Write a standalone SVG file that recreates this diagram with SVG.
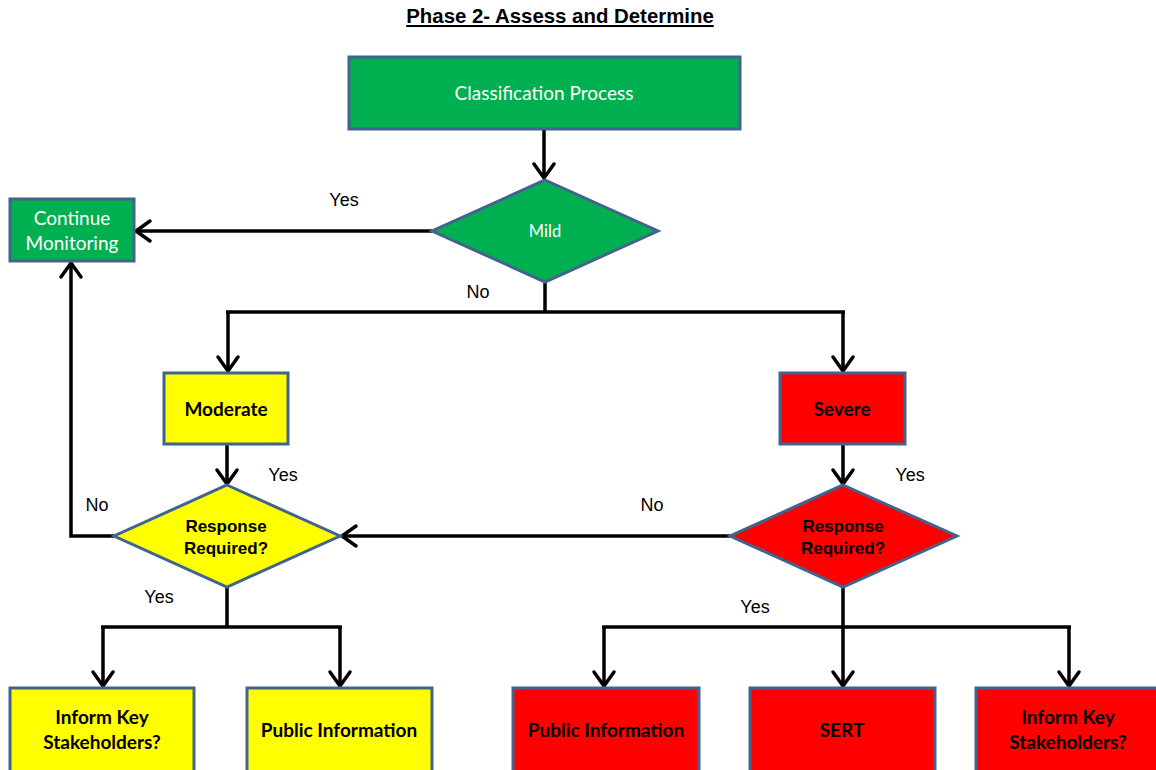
<svg xmlns="http://www.w3.org/2000/svg" width="1156" height="770" viewBox="0 0 1156 770">
<defs>
<marker id="arr" viewBox="0 0 20 24" refX="16" refY="12" markerWidth="20" markerHeight="24" markerUnits="userSpaceOnUse" orient="auto" overflow="visible">
<path d="M2,2 L16,12 L2,22" fill="none" stroke="#000" stroke-width="3.5" stroke-linecap="round" stroke-linejoin="miter"/>
</marker>
<style>
.box{stroke:#41648F;stroke-width:3}
.g{fill:#00B050}
.y{fill:#FFFF00}
.r{fill:#FF0000}
.wt{font-family:Lato,"Open Sans",sans-serif;fill:#fff;text-anchor:middle}
.bt{font-family:Lato,"Open Sans",sans-serif;font-weight:bold;fill:#000;text-anchor:middle;font-size:19px}
.dt{font-family:"Liberation Sans",Arial,sans-serif;font-weight:bold;fill:#000;text-anchor:middle;font-size:17px}
.lbl{font-family:"Liberation Sans",Arial,sans-serif;fill:#000;font-size:18px;text-anchor:middle}
.c{fill:none;stroke:#000;stroke-width:3.5}
.ca{fill:none;stroke:#000;stroke-width:3.5;marker-end:url(#arr)}
</style>
</defs>
<rect width="1156" height="770" fill="#fff"/>
<text x="560" y="23" font-family="Liberation Sans,Arial,sans-serif" font-weight="bold" font-size="20.4" text-anchor="middle" text-decoration="underline" fill="#000">Phase 2- Assess and Determine</text>

<g id="connectors">
<line class="ca" x1="544" y1="129" x2="544" y2="178"/>
<line class="ca" x1="432" y1="231" x2="136" y2="231"/>
<polyline class="c" points="545,282 545,312"/>
<line class="c" x1="226" y1="312" x2="845" y2="312"/>
<line class="ca" x1="228" y1="312" x2="228" y2="371"/>
<line class="ca" x1="843" y1="312" x2="843" y2="371"/>
<line class="ca" x1="227" y1="444" x2="227" y2="484"/>
<line class="ca" x1="843" y1="444" x2="843" y2="484"/>
<line class="ca" x1="730" y1="536" x2="342" y2="536"/>
<polyline class="ca" points="114,536 71,536 71,263"/>
<line class="c" x1="227" y1="587" x2="227" y2="627"/>
<line class="c" x1="101" y1="627" x2="342" y2="627"/>
<line class="ca" x1="103" y1="627" x2="103" y2="686"/>
<line class="ca" x1="340" y1="627" x2="340" y2="686"/>
<line class="c" x1="843" y1="587" x2="843" y2="627"/>
<line class="c" x1="602" y1="627" x2="1071" y2="627"/>
<line class="ca" x1="604" y1="627" x2="604" y2="686"/>
<line class="ca" x1="843" y1="627" x2="843" y2="686"/>
<line class="ca" x1="1069" y1="627" x2="1069" y2="686"/>
</g>

<g id="labels">
<text class="lbl" x="344" y="206">Yes</text>
<text class="lbl" x="478" y="298">No</text>
<text class="lbl" x="283" y="481">Yes</text>
<text class="lbl" x="910" y="481">Yes</text>
<text class="lbl" x="97" y="511">No</text>
<text class="lbl" x="652" y="511">No</text>
<text class="lbl" x="159" y="603">Yes</text>
<text class="lbl" x="755" y="613">Yes</text>
</g>

<g id="classification">
<rect class="box g" x="349" y="57" width="391" height="72"/>
<text class="wt" x="544" y="100" font-size="19">Classification Process</text>
</g>
<g id="mild">
<polygon class="box g" points="545,180 658,231 545,282 432,231"/>
<text class="wt" x="545" y="237" font-size="16.5">Mild</text>
</g>
<g id="continue">
<rect class="box g" x="10" y="199" width="124" height="62"/>
<text class="wt" x="72" y="225" font-size="19">Continue</text>
<text class="wt" x="72" y="250" font-size="19">Monitoring</text>
</g>
<g id="moderate">
<rect class="box y" x="164" y="373" width="124" height="71"/>
<text class="bt" x="226" y="416">Moderate</text>
</g>
<g id="severe">
<rect class="box r" x="780" y="373" width="125" height="71"/>
<text class="bt" x="842" y="416">Severe</text>
</g>
<g id="resp-yellow">
<polygon class="box y" points="227,485 340,536 227,587 114,536"/>
<text class="dt" x="226" y="532">Response</text>
<text class="dt" x="226" y="554">Required?</text>
</g>
<g id="resp-red">
<polygon class="box r" points="843,485 957,536 843,587 730,536"/>
<text class="dt" x="843" y="532">Response</text>
<text class="dt" x="843" y="554">Required?</text>
</g>
<g id="inform-yellow">
<rect class="box y" x="10" y="688" width="184" height="86"/>
<text class="bt" x="102" y="724">Inform Key</text>
<text class="bt" x="102" y="749">Stakeholders?</text>
</g>
<g id="public-yellow">
<rect class="box y" x="247" y="688" width="185" height="86"/>
<text class="bt" x="339" y="737">Public Information</text>
</g>
<g id="public-red">
<rect class="box r" x="513" y="688" width="186" height="86"/>
<text class="bt" x="606" y="737">Public Information</text>
</g>
<g id="sert">
<rect class="box r" x="750" y="688" width="185" height="86"/>
<text class="bt" x="842" y="737">SERT</text>
</g>
<g id="inform-red">
<rect class="box r" x="976" y="688" width="184" height="86"/>
<text class="bt" x="1068" y="724">Inform Key</text>
<text class="bt" x="1068" y="749">Stakeholders?</text>
</g>
</svg>
